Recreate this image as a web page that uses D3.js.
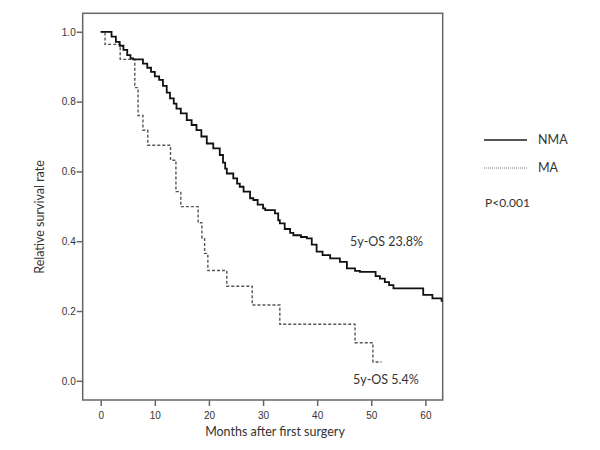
<!DOCTYPE html>
<html><head><meta charset="utf-8">
<script src="https://cdn.jsdelivr.net/npm/d3@7"></script>
<style>body{margin:0;background:#fff}svg{display:block}</style>
</head><body><svg id="c" width="600" height="450"></svg>
<script>
// Kaplan-Meier step data (time in months, survival after event)
const nmaTime = [0,2.0,2.8,3.5,4.2,4.9,5.5,6.0,7.8,8.6,9.3,10.0,10.8,11.5,12.2,12.8,13.5,14.0,14.8,15.9,16.8,17.7,18.6,19.6,20.8,22.0,22.6,23.0,23.3,24.5,25.2,25.7,26.4,27.6,28.2,29.0,30.0,30.4,32.2,32.8,33.1,34.0,35.0,35.6,37.0,38.1,39.0,39.9,41.0,42.4,44.2,45.5,47.0,47.9,50.8,51.6,52.5,53.3,54.1,59.6,61.3,63.0];
const nmaSurv = [1.0,0.986,0.971,0.96,0.948,0.933,0.924,0.921,0.909,0.897,0.885,0.872,0.862,0.845,0.826,0.809,0.794,0.78,0.766,0.747,0.733,0.718,0.70,0.68,0.666,0.647,0.625,0.608,0.594,0.58,0.565,0.556,0.542,0.523,0.518,0.505,0.494,0.489,0.48,0.46,0.451,0.435,0.424,0.417,0.412,0.408,0.39,0.37,0.36,0.351,0.341,0.322,0.315,0.312,0.30,0.293,0.283,0.274,0.265,0.246,0.236,0.229];
const nmaEnd = 63.3;
const maTime = [0,0.8,3.6,6.3,6.9,7.8,8.7,12.9,13.9,14.8,18.0,18.7,19.2,19.8,23.3,28.0,33.1,47.0,50.3];
const maSurv = [1.0,0.964,0.921,0.84,0.76,0.718,0.675,0.632,0.542,0.499,0.453,0.41,0.365,0.316,0.271,0.217,0.162,0.109,0.054];
const maEnd = 51.9;
const xTicks = [0,10,20,30,40,50,60];
const yTicks = [0.0,0.2,0.4,0.6,0.8,1.0];
const legendLabels = ["NMA","MA"];
const annotations = ["5y-OS 23.8%","5y-OS 5.4%","P<0.001"];
const xTitle = "Months after first surgery";
const yTitle = "Relative survival rate";

const svg = d3.select("#c");
const L = 82.7, R = 442.7, T = 13.3, B = 400;
const x = d3.scaleLinear().domain([-3.33, 63.2]).range([L, R]);
const y = d3.scaleLinear().domain([-0.055, 1.053]).range([B, T]);
const axisCol = "#666";
const textCol = "#333";

svg.append("defs").append("clipPath").attr("id","clip")
  .append("rect").attr("x",L).attr("y",T).attr("width",R-L).attr("height",B-T);

// frame
svg.append("rect").attr("x",L).attr("y",T).attr("width",R-L).attr("height",B-T)
  .attr("fill","none").attr("stroke",axisCol).attr("stroke-width",1.5);

// axes
const xAx = svg.append("g").attr("transform",`translate(0,${B})`)
  .call(d3.axisBottom(x).tickValues(xTicks).tickFormat(d3.format("d")).tickSize(6).tickSizeOuter(0));
const yAx = svg.append("g").attr("transform",`translate(${L},0)`)
  .call(d3.axisLeft(y).tickValues(yTicks).tickFormat(d3.format(".1f")).tickSize(6).tickSizeOuter(0));
[xAx,yAx].forEach(g=>{
  g.select(".domain").remove();
  g.selectAll(".tick line").attr("stroke",axisCol).attr("stroke-width",1.5);
  g.selectAll(".tick text").attr("fill",textCol).attr("font-family","Liberation Sans, Arial, sans-serif").attr("font-size",10);
});
xAx.selectAll(".tick text").attr("dy","0.95em");
yAx.selectAll(".tick text").attr("x",-7).attr("font-size",10);

// titles
svg.append("text").attr("x",275).attr("y",436).attr("text-anchor","middle")
  .attr("font-family","Lato, sans-serif").attr("font-size",12.5).attr("fill",textCol).text(xTitle);
svg.append("text").attr("transform",`translate(44,${217}) rotate(-90)`).attr("text-anchor","middle")
  .attr("font-family","Lato, sans-serif").attr("font-size",12.5).attr("fill",textCol).text(yTitle);

// curves
const line = d3.line().x(d=>x(d[0])).y(d=>y(d[1])).curve(d3.curveStepAfter);
const nmaPts = nmaTime.map((t,i)=>[t,nmaSurv[i]]); nmaPts.push([nmaEnd, nmaSurv[nmaSurv.length-1]]);
const maPts = maTime.map((t,i)=>[t,maSurv[i]]); maPts.push([maEnd, maSurv[maSurv.length-1]]);
const g = svg.append("g").attr("clip-path","url(#clip)");
g.append("path").attr("d",line(maPts)).attr("fill","none").attr("stroke","#555")
  .attr("stroke-width",1.4).attr("stroke-dasharray","3,2");
g.append("path").attr("d",line(nmaPts)).attr("fill","none").attr("stroke","#111")
  .attr("stroke-width",1.8);

// annotations
const af = "Lato, sans-serif";
svg.append("text").attr("x",350).attr("y",246).attr("font-family",af).attr("font-size",12.5).attr("fill",textCol).text(annotations[0]);
svg.append("text").attr("x",353).attr("y",384).attr("font-family",af).attr("font-size",12.5).attr("fill",textCol).text(annotations[1]);

// legend
svg.append("line").attr("x1",484).attr("x2",527).attr("y1",140).attr("y2",140).attr("stroke","#555").attr("stroke-width",2);
svg.append("line").attr("x1",484).attr("x2",527).attr("y1",168).attr("y2",168).attr("stroke","#777").attr("stroke-width",1).attr("stroke-dasharray","1,1");
svg.append("text").attr("x",538).attr("y",144).attr("font-family",af).attr("font-size",12.5).attr("fill",textCol).text(legendLabels[0]);
svg.append("text").attr("x",538).attr("y",172).attr("font-family",af).attr("font-size",12.5).attr("fill",textCol).text(legendLabels[1]);
svg.append("text").attr("x",485).attr("y",207).attr("font-family",af).attr("font-size",12).attr("fill",textCol).text(annotations[2]);
</script></body></html>
